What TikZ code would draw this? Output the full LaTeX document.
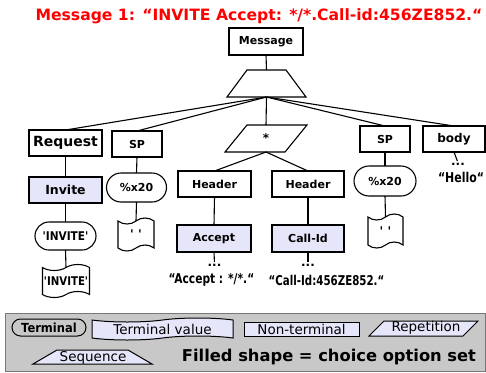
\documentclass[tikz,border=0pt]{standalone}
\usepackage{fontspec}
\usepackage{graphicx}
\newfontfamily\dvs{DejaVu Sans}
\usetikzlibrary{shapes.misc,shapes.symbols}
\definecolor{lav}{RGB}{230,230,250}
\definecolor{legbg}{RGB}{200,200,200}
\definecolor{legline}{RGB}{120,120,120}
\newcommand\fsz[1]{\fontsize{#1pt}{#1pt}\selectfont}
\newcommand\cnd[2]{\scalebox{#1}[1]{#2}}
\begin{document}
\begin{tikzpicture}[x=1pt,y=-1pt,line width=1.1pt,
  every node/.style={inner sep=0pt,outer sep=0pt},
  nt/.style={draw,rectangle,fill=white,font=\dvs\bfseries\fsz{11}},
  ch/.style={nt,fill=lav},
  term/.style={draw,rounded rectangle,fill=white,font=\dvs\bfseries\fsz{12}},
  tval/.style={draw,tape,fill=white,tape bend height=6pt,font=\dvs\bfseries\fsz{12}},
  ghost/.style={rectangle,draw=none},
  lbl/.style={font=\dvs\bfseries\fsz{12}},
  quo/.style={font=\dvs\bfseries\fsz{13.5}},
  dots/.style={font=\dvs\bfseries\fsz{12}},
  leg/.style={font=\dvs\fsz{13.5}}]
\useasboundingbox (0,0) rectangle (486,372);

% title
\node[text=red,font=\dvs\bfseries\fsz{15.6}] (title) at (259,16) {Message 1: “INVITE Accept: */*.Call-id:456ZE852.“};

% top
\node[nt,minimum width=74,minimum height=27] (msg) at (266,41.5) {Message};
\node[ghost,minimum width=79,minimum height=27] (seq) at (266.5,83.5) {};
\draw[fill=white] ([xshift=20pt]seq.north west) -- ([xshift=-20pt]seq.north east) -- (seq.south east) -- (seq.south west) -- cycle;

% level 2
\node[nt,minimum width=73,minimum height=26,font=\dvs\bfseries\fsz{14}] (req) at (65.5,143) {Request};
\node[nt,minimum width=50,minimum height=26] (sp1) at (137,144) {SP};
\node[ghost,minimum width=82,minimum height=27] (star) at (266,138.5) {};
\draw[fill=white] ([xshift=22pt]star.north west) -- (star.north east) -- ([xshift=-22pt]star.south east) -- (star.south west) -- cycle;
\node[lbl] (starl) at (star) {*};
\node[nt,minimum width=50,minimum height=26] (sp2) at (385,139) {SP};
\node[nt,minimum width=62,minimum height=26,font=\dvs\bfseries\fsz{12}] (body) at (454,139) {body};

% request branch
\node[ch,minimum width=73,minimum height=26,font=\dvs\bfseries\fsz{12.5}] (inv) at (65.5,190) {Invite};
\node[term,minimum width=61,minimum height=28] (t1) at (65.5,236) {\cnd{0.88}{'INVITE'}};
\node[tval,minimum width=47,minimum height=33] (w1) at (66,281) {\cnd{0.85}{'INVITE'}};

% SP left branch
\node[term,minimum width=60,minimum height=29,font=\dvs\bfseries\fsz{11}] (p1) at (136.5,187.5) {\%x20};
\node[tval,minimum width=36,minimum height=33] (w2) at (136,234.5) {' '};

% headers
\node[nt,minimum width=73,minimum height=26] (h1) at (214.5,184) {Header};
\node[nt,minimum width=72,minimum height=26] (h2) at (308,184) {Header};
\node[ch,minimum width=74,minimum height=27] (acc) at (214,238.5) {Accept};
\node[ch,minimum width=72,minimum height=27] (cid) at (308,238.5) {Call-Id};
\node[dots] (d1) at (214.5,265) {...};
\node[quo] (q1) at (211.5,280) {\cnd{0.79}{“Accept : */*.“}};
\node[dots] (d2) at (308,265) {...};
\node[quo] (q2) at (326.5,280) {\cnd{0.76}{“Call-Id:456ZE852.“}};

% SP right branch
\node[term,minimum width=62,minimum height=30,font=\dvs\bfseries\fsz{11}] (p2) at (385,181) {\%x20};
\node[tval,minimum width=35,minimum height=34] (w3) at (385.5,231) {' '};

% body
\node[dots] (d3) at (458,164) {...};
\node[quo] (q3) at (461,177) {\cnd{0.81}{“Hello“}};

% connectors
\draw (msg.south) -- (seq.north);
\foreach \n in {req,sp1,star,sp2,body} \draw (seq.south) -- (\n.north);
\draw (req.south) -- (inv.north);
\draw (inv.south) -- (t1.north);
\draw (t1.south) -- (w1.north);
\draw (sp1.south) -- (p1.north);
\draw (p1.south) -- (w2.north);
\draw (star.south) -- (h1.north);
\draw (star.south) -- (h2.north);
\draw (h1.south) -- (acc.north);
\draw (h2.south) -- (cid.north);
\draw[shorten >=2pt] (acc.south) -- (d1.north);
\draw[shorten >=2pt] (cid.south) -- (d2.north);
\draw (sp2.south) -- (p2.north);
\draw (p2.south) -- (w3.north);
\draw[shorten >=2pt] (body.south) -- (d3.north);

% legend
\node[draw=legline,fill=legbg,line width=1pt,minimum width=480,minimum height=58] (legend) at (245,342) {};
\node[term,fill=none,line width=1pt,minimum width=74,minimum height=17,font=\dvs\bfseries\fsz{12.5}] (lterm) at (49,327.5) {\cnd{0.92}{Terminal}};
\node[tval,fill=lav,line width=1pt,minimum width=141,minimum height=22,tape bend height=4pt,leg] (lval) at (162.5,329) {Terminal value};
\node[draw,fill=lav,line width=1pt,minimum width=115,minimum height=14,leg] (lnon) at (301.5,329) {Non-terminal};
\node[ghost,minimum width=109,minimum height=15] (lrep) at (423.5,328.5) {};
\draw[fill=lav,line width=1pt] ([xshift=15pt]lrep.north west) -- (lrep.north east) -- ([xshift=-15pt]lrep.south east) -- (lrep.south west) -- cycle;
\node[leg] (lrepl) at (426,328) {Repetition};
\node[ghost,minimum width=119,minimum height=14] (lseq) at (92.5,357) {};
\draw[fill=lav,line width=1pt] ([xshift=24pt]lseq.north west) -- ([xshift=-24pt]lseq.north east) -- (lseq.south east) -- (lseq.south west) -- cycle;
\node[leg] (lseql) at (93,357.5) {Sequence};
\node[font=\dvs\bfseries\fsz{16.3}] (lfill) at (329,357) {Filled shape = choice option set};
\end{tikzpicture}
\end{document}
